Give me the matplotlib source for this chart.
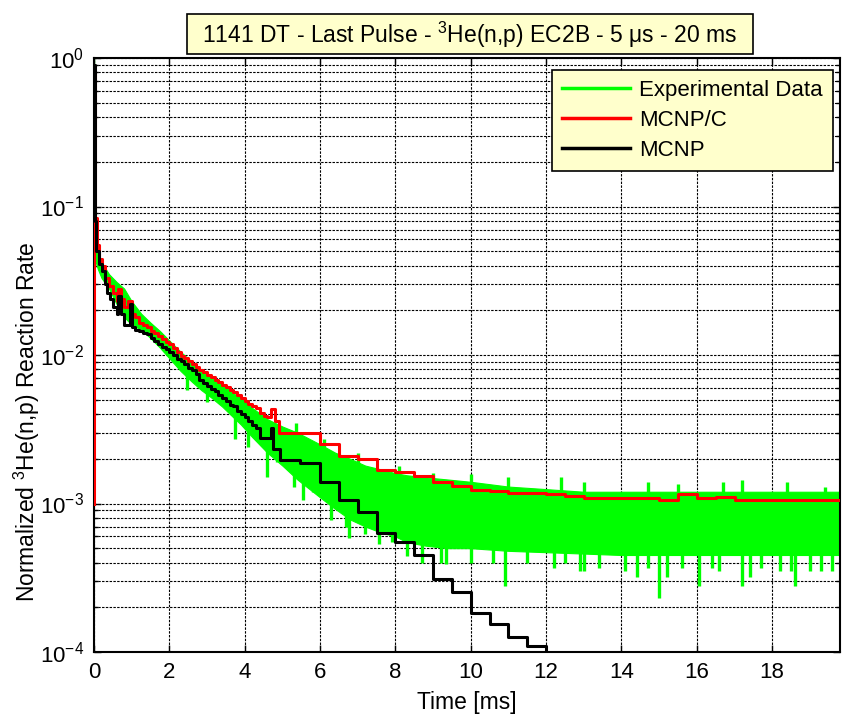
import numpy as np
import matplotlib
matplotlib.use("Agg")
import matplotlib.pyplot as plt
from matplotlib.lines import Line2D
from matplotlib.patches import Rectangle
from matplotlib.ticker import LogLocator, FixedLocator

plt.rcParams['font.family'] = ['Liberation Sans', 'DejaVu Sans']
plt.rcParams['mathtext.fontset'] = 'custom'
plt.rcParams['mathtext.rm'] = 'Liberation Sans'
plt.rcParams['mathtext.it'] = 'Liberation Sans:italic'
plt.rcParams['mathtext.bf'] = 'Liberation Sans:bold'

# ---------------------------------------------------------------
# Data (time in ms)
# ---------------------------------------------------------------
# Experimental data: noisy band -> upper / lower envelope
exp_t = [0, 0.02, 0.05, 0.1, 0.2, 0.4, 0.6, 0.8, 1.0, 1.25, 1.5, 1.75, 2.0, 2.3,
         2.6, 2.85, 3.1, 3.4, 3.7, 3.9, 4.2, 4.6, 5.0, 5.4, 6.0, 6.4, 6.8, 7.2,
         7.6, 8.0, 8.3, 8.8, 9.4, 10, 11, 12, 13, 14, 15, 16, 17, 18, 19, 19.8]
exp_upper = [1.0, 0.09, 0.06, 0.05, 0.042, 0.035, 0.031, 0.028, 0.023, 0.019,
             0.0165, 0.0145, 0.0125, 0.0105, 0.009, 0.0078, 0.0070, 0.0064,
             0.0055, 0.0052, 0.0044, 0.0037, 0.0033, 0.0030, 0.0025, 0.0022,
             0.0020, 0.0018, 0.0017, 0.0016, 0.00155, 0.0015, 0.00145, 0.0014,
             0.0013, 0.00125, 0.0012, 0.0012, 0.0012, 0.0012, 0.0012, 0.0012,
             0.0012, 0.0012]
exp_lower = [0.04, 0.045, 0.042, 0.038, 0.033, 0.028, 0.022, 0.018, 0.016,
             0.0148, 0.013, 0.0112, 0.0095, 0.0078, 0.0066, 0.0058, 0.0052,
             0.0045, 0.0038, 0.0034, 0.0028, 0.0022, 0.0018, 0.00145, 0.0011,
             0.00092, 0.00078, 0.0007, 0.00064, 0.0006, 0.00055, 0.00052,
             0.0005, 0.0005, 0.00048, 0.00047, 0.00046, 0.00045, 0.00045,
             0.00045, 0.00045, 0.00045, 0.00045, 0.00045]

# isolated downward / upward excursions of the experimental data
spike_dn_t = [2.47, 3.0, 3.75, 4.1, 4.6, 4.85, 5.3, 5.55, 5.8, 6.3, 6.7, 6.78,
              7.2, 7.57, 7.9, 8.3, 8.7, 9.2, 9.35, 10.0, 10.6, 10.9, 11.5, 12.2,
              12.5, 12.9, 13.0, 13.4, 14.1, 14.4, 14.7, 15.0, 15.2, 15.6, 16.05,
              16.4, 16.6, 17.2, 17.4, 17.7, 18.2, 18.5, 18.6, 19.0, 19.3, 19.6]
spike_dn_v = [0.0058, 0.0048, 0.0027, 0.0024, 0.0015, 0.0019, 0.0013, 0.00105,
              0.0012, 0.00078, 0.0007, 0.00059, 0.00062, 0.00053, 0.00055,
              0.00044, 0.0004, 0.0004, 0.00039, 0.0004, 0.0004, 0.00028, 0.0004,
              0.00037, 0.0004, 0.00035, 0.00035, 0.00037, 0.00035, 0.00032,
              0.00037, 0.00023, 0.00032, 0.00037, 0.00028, 0.00037, 0.00035,
              0.00028, 0.00032, 0.00037, 0.00035, 0.00035, 0.00028, 0.00035,
              0.00035, 0.00035]
spike_up_t = [5.35, 6.1, 7.0, 8.1, 9.0, 10.0, 11.0, 12.4, 13.0, 14.7, 15.5,
              16.7, 17.2, 18.4, 19.4]
spike_up_v = [0.0035, 0.0027, 0.0022, 0.0018, 0.0016, 0.00158, 0.0015, 0.0015,
              0.0014, 0.0014, 0.00135, 0.0014, 0.00145, 0.0014, 0.0013]

# MCNP/C (step, value holds from each start time)
mcnpc_t = [0.0, 0.01, 0.03, 0.08, 0.13, 0.2, 0.3, 0.4, 0.5, 0.6, 0.65, 0.72,
           0.8, 0.9, 1.0, 1.1, 1.2, 1.3, 1.4, 1.5, 1.6, 1.7, 1.8, 1.9, 2.0, 2.1,
           2.2, 2.3, 2.4, 2.5, 2.6, 2.7, 2.8, 2.9, 3.0, 3.1, 3.2, 3.3, 3.4, 3.5,
           3.6, 3.7, 3.8, 3.9, 4.0, 4.1, 4.2, 4.3, 4.4, 4.5, 4.6, 4.7, 4.8, 4.9,
           6.0, 6.5, 7.0, 7.5, 8.0, 8.5, 9.0, 9.5, 10.0, 10.5, 11.0, 12.0, 12.5,
           13.0, 15.0, 15.5, 16.0, 16.5, 17.0, 19.8]
mcnpc_v = [1.0e-3, 0.80, 0.084, 0.055, 0.044, 0.040, 0.033, 0.029, 0.026,
           0.023, 0.028, 0.024, 0.021, 0.023, 0.019, 0.018, 0.0165, 0.0158,
           0.0155, 0.0145, 0.014, 0.0135, 0.0128, 0.0123, 0.0118, 0.0112,
           0.0104, 0.0098, 0.0096, 0.0091, 0.0087, 0.0083, 0.0079, 0.0077,
           0.0073, 0.0071, 0.0068, 0.0066, 0.0063, 0.0061, 0.0058, 0.0056,
           0.0054, 0.0051, 0.0049, 0.0047, 0.0045, 0.0044, 0.0041, 0.0039,
           0.0038, 0.0043, 0.0036, 0.0030, 0.0025, 0.0021, 0.0020, 0.00168,
           0.00162, 0.00154, 0.0014, 0.00131, 0.00124, 0.00122, 0.00118,
           0.00115, 0.00112, 0.00109, 0.00106, 0.00116, 0.00109, 0.0011,
           0.00105, 0.00105]

# MCNP (step)
mcnp_t = [0.0, 0.02, 0.06, 0.12, 0.2, 0.28, 0.35, 0.42, 0.5, 0.6, 0.65, 0.72,
          0.8, 0.95, 1.0, 1.1, 1.2, 1.3, 1.4, 1.5, 1.6, 1.7, 1.8, 1.9, 2.0,
          2.1, 2.2, 2.3, 2.4, 2.5, 2.6, 2.7, 2.8, 2.9, 3.0, 3.1, 3.2, 3.3, 3.4,
          3.5, 3.6, 3.7, 3.8, 3.9, 4.0, 4.1, 4.2, 4.3, 4.4, 4.7, 4.75, 4.93,
          5.46, 6.0, 6.5, 7.0, 7.5, 8.0, 8.5, 9.0, 9.5, 10.0, 10.5, 11.0, 11.5,
          12.0]
mcnp_v = [0.9, 0.08, 0.05, 0.041, 0.037, 0.030, 0.026, 0.024, 0.021, 0.019,
          0.025, 0.019, 0.016, 0.022, 0.0155, 0.0148, 0.0145, 0.014, 0.0138,
          0.013, 0.0124, 0.0118, 0.0114, 0.011, 0.0105, 0.0100, 0.0094,
          0.0091, 0.0087, 0.0082, 0.0079, 0.0075, 0.0068, 0.0065, 0.0062,
          0.0059, 0.0057, 0.0054, 0.0051, 0.0049, 0.0046, 0.0045, 0.0042,
          0.0040, 0.0038, 0.0036, 0.0034, 0.0032, 0.00275, 0.0032, 0.00234,
          0.00196, 0.00186, 0.0014, 0.00106, 0.00088, 0.00063, 0.00055,
          0.00045, 0.00031, 0.000255, 0.000182, 0.000154, 0.000126, 0.000110,
          1e-5]

x_ticks = [0, 2, 4, 6, 8, 10, 12, 14, 16, 18]
title_text = "1141 DT - Last Pulse - $^{3}$He(n,p) EC2B - 5 \u03bcs - 20 ms"
legend_labels = ["Experimental Data", "MCNP/C", "MCNP"]

GREEN = (0, 1, 0)
YELLOW = (1, 1, 0.8)

# ---------------------------------------------------------------
# Figure
# ---------------------------------------------------------------
fig = plt.figure(figsize=(8.44, 7.15), dpi=100)
ax = fig.add_axes([94 / 844, 1 - 652 / 715, 746 / 844, 594 / 715])

# experimental data
ax.fill_between(exp_t, exp_lower, exp_upper, color=GREEN, lw=0.8, zorder=2)
lo_at_dn = np.interp(spike_dn_t, exp_t, exp_lower) * 1.3
ax.vlines(spike_dn_t, spike_dn_v, lo_at_dn, color=GREEN, lw=2.4, zorder=2)
hi_at_up = np.interp(spike_up_t, exp_t, exp_upper) * 0.85
ax.vlines(spike_up_t, hi_at_up, spike_up_v, color=GREEN, lw=2.4, zorder=2)

# simulations
ax.step(mcnpc_t, mcnpc_v, where="post", color="red", lw=2.2, zorder=3)
ax.step(mcnp_t, mcnp_v, where="post", color="black", lw=2.2, zorder=4)

ax.set_yscale("log")
ax.set_ylim(1e-4, 1)
ax.set_xlim(0, 19.8)
ax.xaxis.set_major_locator(FixedLocator(x_ticks))
ax.yaxis.set_major_locator(LogLocator(base=10, numticks=10))
ax.yaxis.set_minor_locator(LogLocator(base=10, subs=np.arange(2, 10), numticks=10))

grid_ls = (0, (2.2, 1.2))
ax.grid(True, which="major", axis="both", color="black", ls=grid_ls, lw=0.8)
ax.grid(True, which="minor", axis="y", color="black", ls=grid_ls, lw=0.8)

ax.tick_params(which="both", direction="in", top=True, right=True,
               labelsize=16, width=1)
ax.tick_params(which="major", length=5, pad=7)
ax.tick_params(which="minor", length=3)
for s in ax.spines.values():
    s.set_linewidth(1.5)

ax.set_xlabel("Time [ms]", fontsize=16.5, labelpad=6)
ax.set_ylabel("Normalized $^{3}$He(n,p) Reaction Rate", fontsize=16.5)
ax.yaxis.set_label_coords(-0.07, 0.387)

# legend
handles = [Line2D([], [], color=GREEN, lw=2.5),
           Line2D([], [], color="red", lw=2.5),
           Line2D([], [], color="black", lw=2.5)]
leg = ax.legend(handles, legend_labels, loc="upper right",
                bbox_to_anchor=(833 / 844, 1 - 70 / 715),
                bbox_transform=fig.transFigure, borderaxespad=0,
                fontsize=16, handlelength=3.1, handletextpad=0.4,
                labelspacing=0.4, borderpad=0.45, fancybox=False,
                framealpha=1, facecolor=YELLOW, edgecolor="black")
leg.get_frame().set_linewidth(1.2)
leg.set_zorder(10)

# title box
fig.patches.append(Rectangle((187 / 844, 1 - 54 / 715), 566 / 844, 40 / 715,
                             transform=fig.transFigure, facecolor=YELLOW,
                             edgecolor="black", lw=1.2))
fig.text(470 / 844, 1 - 35 / 715, title_text, ha="center", va="center",
         fontsize=16.5)

fig.savefig("out.png", dpi=100)
